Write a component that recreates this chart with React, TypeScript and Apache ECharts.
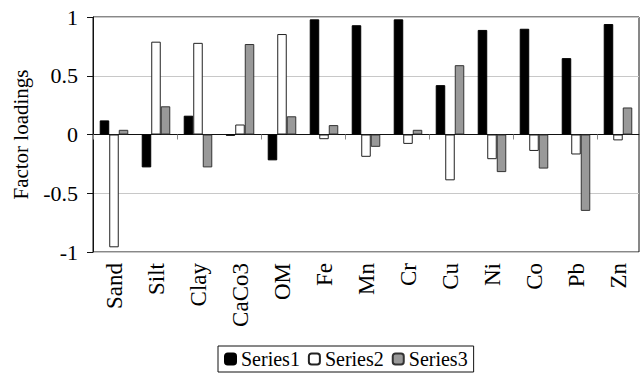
import React, { useEffect, useRef } from "react";
import * as echarts from "echarts";

const categories = ["Sand", "Silt", "Clay", "CaCo3", "OM", "Fe", "Mn", "Cr", "Cu", "Ni", "Co", "Pb", "Zn"];
const series1 = [0.12, -0.28, 0.16, -0.01, -0.22, 0.98, 0.93, 0.98, 0.42, 0.89, 0.9, 0.65, 0.94];
const series2 = [-0.96, 0.79, 0.78, 0.085, 0.855, -0.04, -0.19, -0.08, -0.39, -0.21, -0.14, -0.17, -0.05];
const series3 = [0.04, 0.24, -0.28, 0.77, 0.155, 0.08, -0.105, 0.04, 0.59, -0.32, -0.29, -0.65, 0.23];
const seriesNames = ["Series1", "Series2", "Series3"];
const yTicks = ["-1", "-0.5", "0", "0.5", "1"];

const FONT = "'Liberation Serif', 'Times New Roman', serif";

export default function App() {
  const ref = useRef<HTMLDivElement>(null);
  useEffect(() => {
    document.body.style.margin = "0";
    const chart = echarts.init(ref.current!, undefined, { renderer: "svg" });
    const barStyle = (color: string, border: string) => ({
      color,
      borderColor: border,
      borderWidth: 1,
    });
    chart.setOption({
      animation: false,
      backgroundColor: "#fff",
      grid: {
        left: 93,
        right: 5,
        top: 17,
        height: 235,
        show: true,
        borderColor: "#111",
        borderWidth: 1,
        backgroundColor: "transparent",
      },
      legend: {
        left: 218,
        top: 346,
        data: seriesNames,
        borderColor: "#111",
        borderWidth: 1,
        padding: [3, 6, 3, 6],
        itemWidth: 11,
        itemHeight: 11,
        itemGap: 8,
        textStyle: { fontFamily: FONT, fontSize: 20, color: "#000" },
      },
      xAxis: [
        {
          type: "category",
          data: categories,
          position: "bottom",
          axisLine: { show: false, onZero: false },
          axisTick: { show: false },
          axisLabel: {
            rotate: 90,
            margin: 11,
            fontFamily: FONT,
            fontSize: 23,
            color: "#000",
          },
          splitLine: { show: false },
        },
        {
          type: "category",
          data: categories,
          position: "bottom",
          axisLine: { show: true, onZero: true, lineStyle: { color: "#111", width: 1 } },
          axisTick: { show: true, length: 5, lineStyle: { color: "#888" } },
          axisLabel: { show: false },
          splitLine: { show: false },
        },
      ],
      yAxis: {
        type: "value",
        min: -1,
        max: 1,
        interval: 0.5,
        name: "Factor loadings",
        nameLocation: "middle",
        nameGap: 62,
        nameRotate: 90,
        nameTextStyle: { fontFamily: FONT, fontSize: 21, color: "#000" },
        axisLine: { show: true, lineStyle: { color: "#111" } },
        axisTick: { show: true, length: 6, lineStyle: { color: "#111" } },
        axisLabel: {
          margin: 15,
          fontFamily: FONT,
          fontSize: 22,
          color: "#000",
          formatter: (v: number) => {
            const idx = Math.round((v + 1) / 0.5);
            return yTicks[idx] ?? String(v);
          },
        },
        splitLine: { show: true, lineStyle: { color: "#c8c8c8", width: 1 } },
      },
      series: [
        {
          name: seriesNames[0],
          type: "bar",
          data: series1,
          barGap: "0%",
          barCategoryGap: "32%",
          itemStyle: barStyle("#000", "#000"),
        },
        {
          name: seriesNames[1],
          type: "bar",
          data: series2,
          barGap: "0%",
          barCategoryGap: "32%",
          itemStyle: barStyle("#fff", "#222"),
        },
        {
          name: seriesNames[2],
          type: "bar",
          data: series3,
          barGap: "0%",
          barCategoryGap: "32%",
          itemStyle: barStyle("#999", "#333"),
        },
      ],
    });
    return () => chart.dispose();
  }, []);
  return <div ref={ref} style={{ width: 644, height: 375 }} />;
}
